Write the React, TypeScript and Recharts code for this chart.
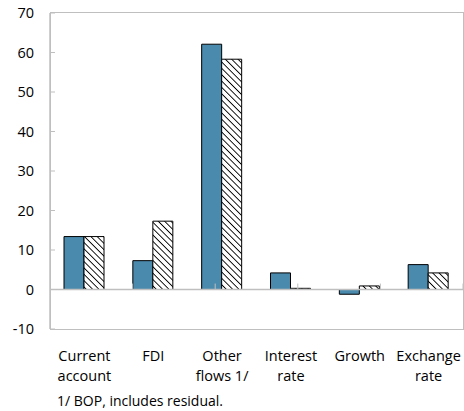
import React from "react";
import { BarChart, Bar, XAxis, YAxis, ReferenceLine } from "recharts";

const categories = ["Current account", "FDI", "Other flows 1/", "Interest rate", "Growth", "Exchange rate"];
const categoryLines = [["Current", "account"], ["FDI"], ["Other", "flows 1/"], ["Interest", "rate"], ["Growth"], ["Exchange", "rate"]];
const seriesA = [13.4, 7.3, 62.1, 4.2, -1.2, 6.3];
const seriesB = [13.4, 17.3, 58.3, 0.3, 0.9, 4.2];
const yTicks = [-10, 0, 10, 20, 30, 40, 50, 60, 70];
const boundaries = [1, 2, 3, 4, 5];

const data = categories.map((c, i) => ({ name: c, a: seriesA[i], b: seriesB[i] }));

const FONT = "'Open Sans', sans-serif";
const BORDER = "#bfbfbf";

function CatTick(props: any) {
  const { x, y, payload } = props;
  const lines = categoryLines[payload.index] || [payload.value];
  return (
    <text x={x} y={y} textAnchor="middle" fill="#000" fontSize={14.5} fontFamily={FONT}>
      {lines.map((l: string, i: number) => (
        <tspan key={i} x={x} dy={i === 0 ? 24 : 20}>{l}</tspan>
      ))}
    </text>
  );
}

export default function App() {
  return (
    <div style={{ position: "absolute", left: 0, top: 0, width: 464, height: 411, background: "#fff", fontFamily: FONT }}>
      <BarChart width={464} height={411} data={data} margin={{ top: 13, right: 1, bottom: 0, left: 0 }} barGap={0} barSize={20}>
        <defs>
          <pattern id="hatch" patternUnits="userSpaceOnUse" width={4.5} height={4.5} patternTransform="rotate(-45)">
            <rect width={4.5} height={4.5} fill="#fff" />
            <line x1={0} y1={0} x2={0} y2={4.5} stroke="#000" strokeWidth={1.8} />
          </pattern>
        </defs>
        <XAxis dataKey="name" axisLine={false} tickLine={false} tick={<CatTick />} interval={0} height={82} />
        <XAxis xAxisId="n" type="number" domain={[0, 6]} hide />
        <YAxis
          domain={[-10, 70]}
          ticks={yTicks}
          width={50}
          axisLine={{ stroke: BORDER, strokeWidth: 1.5 }}
          tickLine={{ stroke: BORDER }}
          tickSize={-5}
          tickMargin={21}
          tick={{ fill: "#000", fontSize: 14.5, fontFamily: FONT }}
          interval={0}
        />
        <ReferenceLine y={0} stroke={BORDER} strokeWidth={1.5} />
        {boundaries.map((b) => (
          <ReferenceLine key={b} xAxisId="n" segment={[{ x: b, y: 0 }, { x: b, y: 1.5 }]} stroke={BORDER} strokeWidth={1} />
        ))}
        <Bar dataKey="a" fill="#4a8aad" stroke="#000" strokeWidth={1} isAnimationActive={false} />
        <Bar dataKey="b" fill="url(#hatch)" stroke="#000" strokeWidth={1} isAnimationActive={false} />
      </BarChart>
      <div style={{ position: "absolute", left: 50, top: 12, width: 412, height: 316, border: `1.5px solid ${BORDER}`, pointerEvents: "none" }} />
      <div style={{ position: "absolute", left: 57, top: 391, fontSize: 14, lineHeight: "19px", color: "#000", whiteSpace: "nowrap" }}>1/ BOP, includes residual.</div>
    </div>
  );
}
